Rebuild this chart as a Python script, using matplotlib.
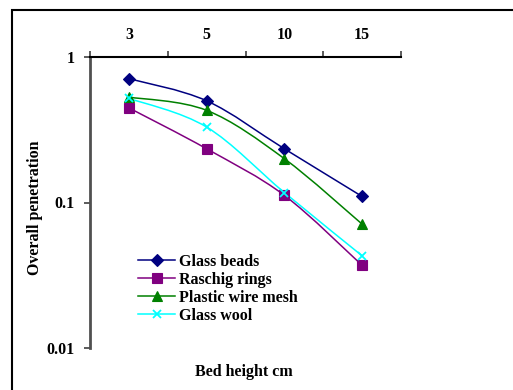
import numpy as np
import matplotlib
matplotlib.use("Agg")
import matplotlib.pyplot as plt
from matplotlib.path import Path
from matplotlib.patches import PathPatch, Rectangle
from matplotlib.lines import Line2D

plt.rcParams['font.family'] = ['Liberation Serif', 'DejaVu Serif']
plt.rcParams['font.weight'] = 'bold'

bed_heights = ['3', '5', '10', '15']
glass_beads = [0.71, 0.50, 0.234, 0.11]
raschig_rings = [0.447, 0.234, 0.112, 0.037]
plastic_mesh = [0.53, 0.43, 0.20, 0.071]
glass_wool = [0.52, 0.33, 0.117, 0.043]

series = [
    ('Glass beads', glass_beads, '#000080', 'D', 6),
    ('Raschig rings', raschig_rings, '#800080', 's', 6.5),
    ('Plastic wire mesh', plastic_mesh, '#008000', '^', 7.5),
    ('Glass wool', glass_wool, '#00FFFF', 'x', 6),
]

FS = 11.5


def smooth_path(xs, ys):
    # catmull-rom style bezier through the points, built in log space
    pts = np.column_stack([xs, np.log10(ys)])
    verts = [pts[0]]
    codes = [Path.MOVETO]
    n = len(pts)
    for i in range(n - 1):
        p0 = pts[max(i - 1, 0)]
        p1 = pts[i]
        p2 = pts[i + 1]
        p3 = pts[min(i + 2, n - 1)]
        c1 = p1 + (p2 - p0) / 6.0
        c2 = p2 - (p3 - p1) / 6.0
        verts += [c1, c2, p2]
        codes += [Path.CURVE4] * 3
    verts = np.array(verts)
    verts[:, 1] = 10 ** verts[:, 1]
    return Path(verts, codes)


fig = plt.figure(figsize=(5.13, 3.9), dpi=100)
ax = fig.add_axes([90 / 513, 1 - 348 / 390, 311 / 513, 291 / 390])

xs = np.arange(len(bed_heights))
handles = []
for name, vals, col, mk, ms in series:
    ax.add_patch(PathPatch(smooth_path(xs, vals), fc='none', ec=col, lw=1.1, zorder=2))
    mew = 1.3 if mk == 'x' else 0.8
    ax.plot(xs, vals, ls='none', marker=mk, ms=ms, color=col, mec=col, mew=mew, zorder=3)
    handles.append(Line2D([], [], color=col, lw=1.1, marker=mk, ms=ms, mec=col, mew=mew, label=name))

ax.set_yscale('log')
ax.set_ylim(0.01, 1)
ax.set_xlim(-0.5, len(bed_heights) - 0.5)

ax.set_yticks([0.01, 0.1, 1])
ax.set_yticklabels(['0.01', '0.1', '1'])
ax.yaxis.set_minor_locator(plt.NullLocator())
ax.tick_params(axis='y', which='major', direction='out', length=4, width=1.2, pad=7,
               labelsize=FS, color='#404040')

ax.xaxis.tick_top()
ax.set_xticks(np.arange(len(bed_heights) + 1) - 0.5)
ax.set_xticklabels([])
ax.set_xticks(xs, minor=True)
ax.set_xticklabels(bed_heights, minor=True)
ax.tick_params(axis='x', which='major', direction='out', length=4, width=1.2, color='#404040')
ax.tick_params(axis='x', which='minor', length=0, pad=10, labelsize=FS)

for side in ['right', 'bottom']:
    ax.spines[side].set_visible(False)
ax.spines['left'].set_linewidth(2)
ax.spines['left'].set_color('#505050')
ax.spines['top'].set_linewidth(1.5)
ax.spines['top'].set_color('#000000')

leg = ax.legend(handles=handles, loc='upper left', bbox_to_anchor=(0.155, 0.323),
                frameon=False, prop={'size': FS, 'weight': 'bold'}, handlelength=2.3,
                handletextpad=0.25, labelspacing=0.12, borderpad=0, borderaxespad=0,
                numpoints=1)

fig.text(35 / 513, 1 - 208 / 390, 'Overall penetration', rotation=90,
         ha='center', va='center', fontsize=FS, fontweight='bold')
fig.text(244 / 513, 1 - 372 / 390, 'Bed height cm', ha='center', va='center',
         fontsize=FS, fontweight='bold')

fig.patches.append(Rectangle((12 / 513, -0.1), 1.2, 1 - 10 / 390 + 0.1,
                             transform=fig.transFigure, fill=False, ec='black', lw=1.5))

fig.savefig('out.png', dpi=100)
